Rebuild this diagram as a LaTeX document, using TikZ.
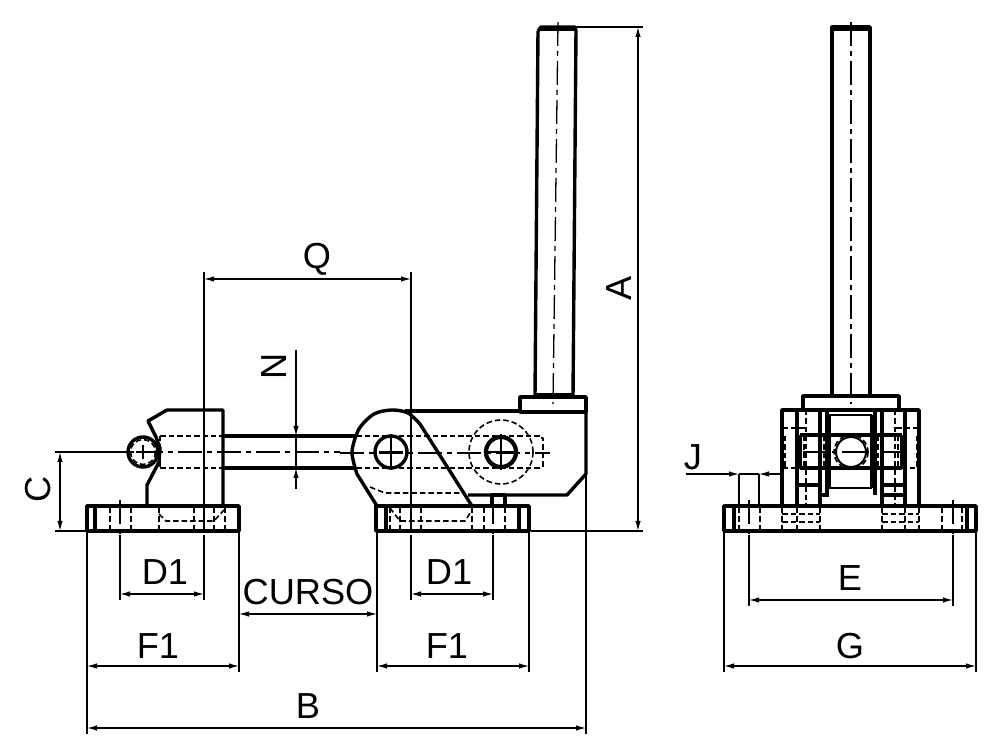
\documentclass[tikz,border=0pt]{standalone}
\usepackage{fontspec}
\setmainfont{Liberation Sans}
\usetikzlibrary{arrows.meta}

\begin{document}
\begin{tikzpicture}[x=0.1mm,y=-0.1mm,line join=round]
\tikzstyle{part}=[line width=0.34mm]
\tikzstyle{thin part}=[line width=0.2mm]
\tikzstyle{hidden}=[line width=0.16mm, dash pattern=on 0.55mm off 0.3mm]
\tikzstyle{axis}=[line width=0.13mm, dash pattern=on 2.4mm off 0.5mm on 0.5mm off 0.5mm]
\tikzstyle{ext}=[line width=0.13mm]
\tikzstyle{dim}=[line width=0.13mm, {Latex[length=1mm,width=0.55mm]}-{Latex[length=1mm,width=0.55mm]}]
\tikzstyle{dimlabel}=[font=\fontsize{10.3}{12}\selectfont, inner sep=0pt]
\useasboundingbox (0,0) rectangle (1000,750);

% clamp arm, left view
\draw[part] (87,506) rectangle (239,531);
\draw[part] (95,506) -- (95,531);
\draw[part] (147,506) -- (147,485) -- (159,462) -- (160,448) -- (156,437) -- (148,421) -- (167,410) -- (223,410) -- (223,506);
\draw[part] (143,452) circle (15);
\draw[hidden] (143,452) circle (12.5);
\draw[ext] (143,445) -- (143,459) (136,452) -- (150,452);
\draw[part] (223,436) -- (356,436) (223,468) -- (356,468);
\draw[hidden] (160,436) -- (223,436) (160,468) -- (223,468) (160,436) -- (160,468);
\draw[hidden] (110,508) -- (110,531) (131,508) -- (131,531) (159,508) -- (159,531) (194,508) -- (194,531) (214,508) -- (214,531) (225,508) -- (225,531);
\draw[hidden] (159,514) -- (166,521) -- (214,521) -- (224,510);
\draw[axis] (120,500) -- (120,535);

% lever with pivots
\draw[part] (377,506) -- (357,474) plot[smooth] coordinates {(357,474) (352,452) (359,429) (374,414) (392,410) (408,413) (420,424)} -- (472,506);
\draw[part] (405,411) -- (520,411);
\draw[part] (520,397) rectangle (586,412);
\draw[part] (586,412) -- (586,474) -- (567,495) -- (468,495);
\draw[part] (492,506) -- (492,495) -- (505,495) -- (505,506);
\draw[part] (376,506) rectangle (529,531);
\draw[part] (386,506) -- (386,531) (519,506) -- (519,531);
\draw[part] (391,452) circle (16);
\draw[line width=0.42mm] (501,452) circle (15);
\draw[hidden] (501,452) circle (32);
\draw[ext] (391,434) -- (391,470) (379,452) -- (403,452) (501,434) -- (501,470) (487,452) -- (515,452);
\draw[hidden] (356,436) -- (541,436) (356,468) -- (541,468) (541,438) -- (543,438) -- (543,468) -- (541,468);
\draw[hidden] (370,487) -- (385,493) -- (465,493);
\draw[hidden] (390,508) -- (400,521) -- (465,521) -- (472,510);
\draw[hidden] (390,508) -- (390,531) (400,508) -- (400,531) (421,508) -- (421,531) (472,508) -- (472,531) (484,508) -- (484,531) (505,508) -- (505,531);
\draw[axis] (493,500) -- (493,535);
\draw[axis] (100,452) -- (340,452) (340,453) -- (550,453);

% handle, left view
\draw[part] (538,31) -- (541,27) -- (575,27) -- (576,31) -- (573,397);
\draw[part] (538,31) -- (535,397);
\draw[line width=0.5mm] (540,29) -- (575,29);
\draw[thin part] (535,394) -- (573,394);
\draw[axis] (558,22) -- (553,404);

% front view
\draw[part] (724,506) rectangle (976,531);
\draw[part] (734,506) -- (734,531) (967,506) -- (967,531);
\draw[part] (782,506) -- (782,410) -- (919,410) -- (919,506);
\draw[part] (803,410) -- (803,396) -- (899,396) -- (899,410);
\draw[part] (832,396) -- (832,27) -- (870,27) -- (870,396);
\draw[line width=0.5mm] (833,29) -- (869,29);
\draw[part] (797,410) -- (797,506) (905,410) -- (905,506) (820,495) -- (820,506) (882,495) -- (882,506);
\draw[part] (820,410) -- (820,495) -- (829,495) (827,410) -- (827,495) (882,410) -- (882,495) -- (905,495) (875,410) -- (875,495);
\draw[part] (829,415) -- (829,488) (872,415) -- (872,488);
\draw[thin part] (829,415) -- (872,415) (829,488) -- (872,488);
\draw[part] (800,435) -- (902,435) (800,468) -- (902,468) (800,435) -- (800,468) (902,435) -- (902,468);
\draw[part] (797,485) -- (820,485) (882,485) -- (905,485);
\draw[thin part] (851,452) circle (15);
\draw[hidden] (851,452) circle (17);
\draw[hidden] (804,436) -- (804,468) (824,436) -- (824,468) (878,436) -- (878,468) (898,436) -- (898,468);
\draw[hidden] (782,428) -- (805,428) (896,428) -- (919,428) (782,468) -- (919,468);
\draw[hidden] (785,436) -- (785,468) (917,436) -- (917,468);
\draw[hidden] (806,410) -- (806,506) (895,410) -- (895,506);
\draw[hidden] (739,508) -- (739,531) (760,508) -- (760,531) (942,508) -- (942,531) (962,508) -- (962,531);
\draw[hidden] (782,514) -- (820,514) (782,522) -- (820,522) (882,514) -- (919,514) (882,522) -- (919,522);
\draw[hidden] (782,508) -- (782,531) (797,508) -- (797,531) (820,508) -- (820,531) (882,508) -- (882,531) (905,508) -- (905,531) (919,508) -- (919,531);
\draw[axis] (749,500) -- (749,535) (953,500) -- (953,535);
\draw[axis] (851,22) -- (851,404);
\draw[axis] (803,452) -- (900,452);

% dimension points, left view
\coordinate (cTop) at (60,452);
\coordinate (cBot) at (60,531);
\coordinate (qL) at (204,279);
\coordinate (qR) at (411,279);
\coordinate (nTop) at (296,350);
\coordinate (nA) at (296,436);
\coordinate (nB) at (296,468);
\coordinate (nBot) at (296,489);
\coordinate (d1a) at (120,594);
\coordinate (d1b) at (204,594);
\coordinate (d2a) at (411,594);
\coordinate (d2b) at (493,594);
\coordinate (f1a) at (87,666);
\coordinate (f1b) at (239,666);
\coordinate (f2a) at (377,666);
\coordinate (f2b) at (529,666);
\coordinate (curA) at (239,614);
\coordinate (curB) at (377,614);
\coordinate (bL) at (87,728);
\coordinate (bR) at (586,728);
\coordinate (aTop) at (638,27);
\coordinate (aBot) at (638,531);
% dimension points, front view
\coordinate (eL) at (749,600);
\coordinate (eR) at (953,600);
\coordinate (gL) at (724,666);
\coordinate (gR) at (976,666);
\coordinate (jL) at (739,474);
\coordinate (jR) at (759,474);

% extension lines
\draw[ext] (55,452) -- (128,452) (55,531) -- (86,531);
\draw[ext] (204,272) -- (204,506) (411,272) -- (411,506);
\draw[axis] (204,506) -- (204,540) (411,506) -- (411,540);
\draw[ext] (204,540) -- (204,600) (411,540) -- (411,600);
\draw[ext] (120,535) -- (120,600) (493,535) -- (493,600);
\draw[ext] (87,531) -- (87,734) (239,531) -- (239,672) (377,531) -- (377,672) (529,531) -- (529,672);
\draw[ext] (586,474) -- (586,734);
\draw[ext] (576,27) -- (643,27) (531,531) -- (643,531);
\draw[ext] (749,535) -- (749,606) (953,535) -- (953,606);
\draw[ext] (724,531) -- (724,672) (976,531) -- (976,672);
\draw[ext] (739,474) -- (739,506) (759,474) -- (759,506);

% dimensions
\draw[dim] (cTop) -- (cBot);
\draw[dim] (qL) -- (qR);
\draw[dim] (d1a) -- (d1b);
\draw[dim] (d2a) -- (d2b);
\draw[dim] (f1a) -- (f1b);
\draw[dim] (f2a) -- (f2b);
\draw[dim] (curA) -- (curB);
\draw[dim] (bL) -- (bR);
\draw[dim] (aTop) -- (aBot);
\draw[dim] (eL) -- (eR);
\draw[dim] (gL) -- (gR);
\draw[ext,-{Latex[length=1mm,width=0.55mm]}] (nTop) -- (nA);
\draw[ext,-{Latex[length=1mm,width=0.55mm]}] (nBot) -- (nB);
\draw[ext] (nA) -- (nB);
\draw[ext,-{Latex[length=1mm,width=0.55mm]}] (686,474) -- (jL);
\draw[ext,-{Latex[length=1mm,width=0.55mm]}] (780,474) -- (jR);
\draw[ext] (jL) -- (jR);

% labels
\node (lblC) [dimlabel,rotate=90] at (38,489) {C};
\node (lblQ) [dimlabel] at (317,259) {Q};
\node (lblN) [dimlabel,rotate=90] at (274,366) {N};
\node (lblA) [dimlabel,rotate=90] at (619,288) {A};
\node (lblD1a) [dimlabel] at (165,572) {D1};
\node (lblD1b) [dimlabel] at (449,572) {D1};
\node (lblF1a) [dimlabel] at (158,646) {F1};
\node (lblF1b) [dimlabel] at (447,646) {F1};
\node (lblCurso) [dimlabel] at (308,592) {CURSO};
\node (lblB) [dimlabel] at (308,706) {B};
\node (lblJ) [dimlabel] at (693,457) {J};
\node (lblE) [dimlabel] at (850,578) {E};
\node (lblG) [dimlabel] at (850,646) {G};
\end{tikzpicture}
\end{document}
